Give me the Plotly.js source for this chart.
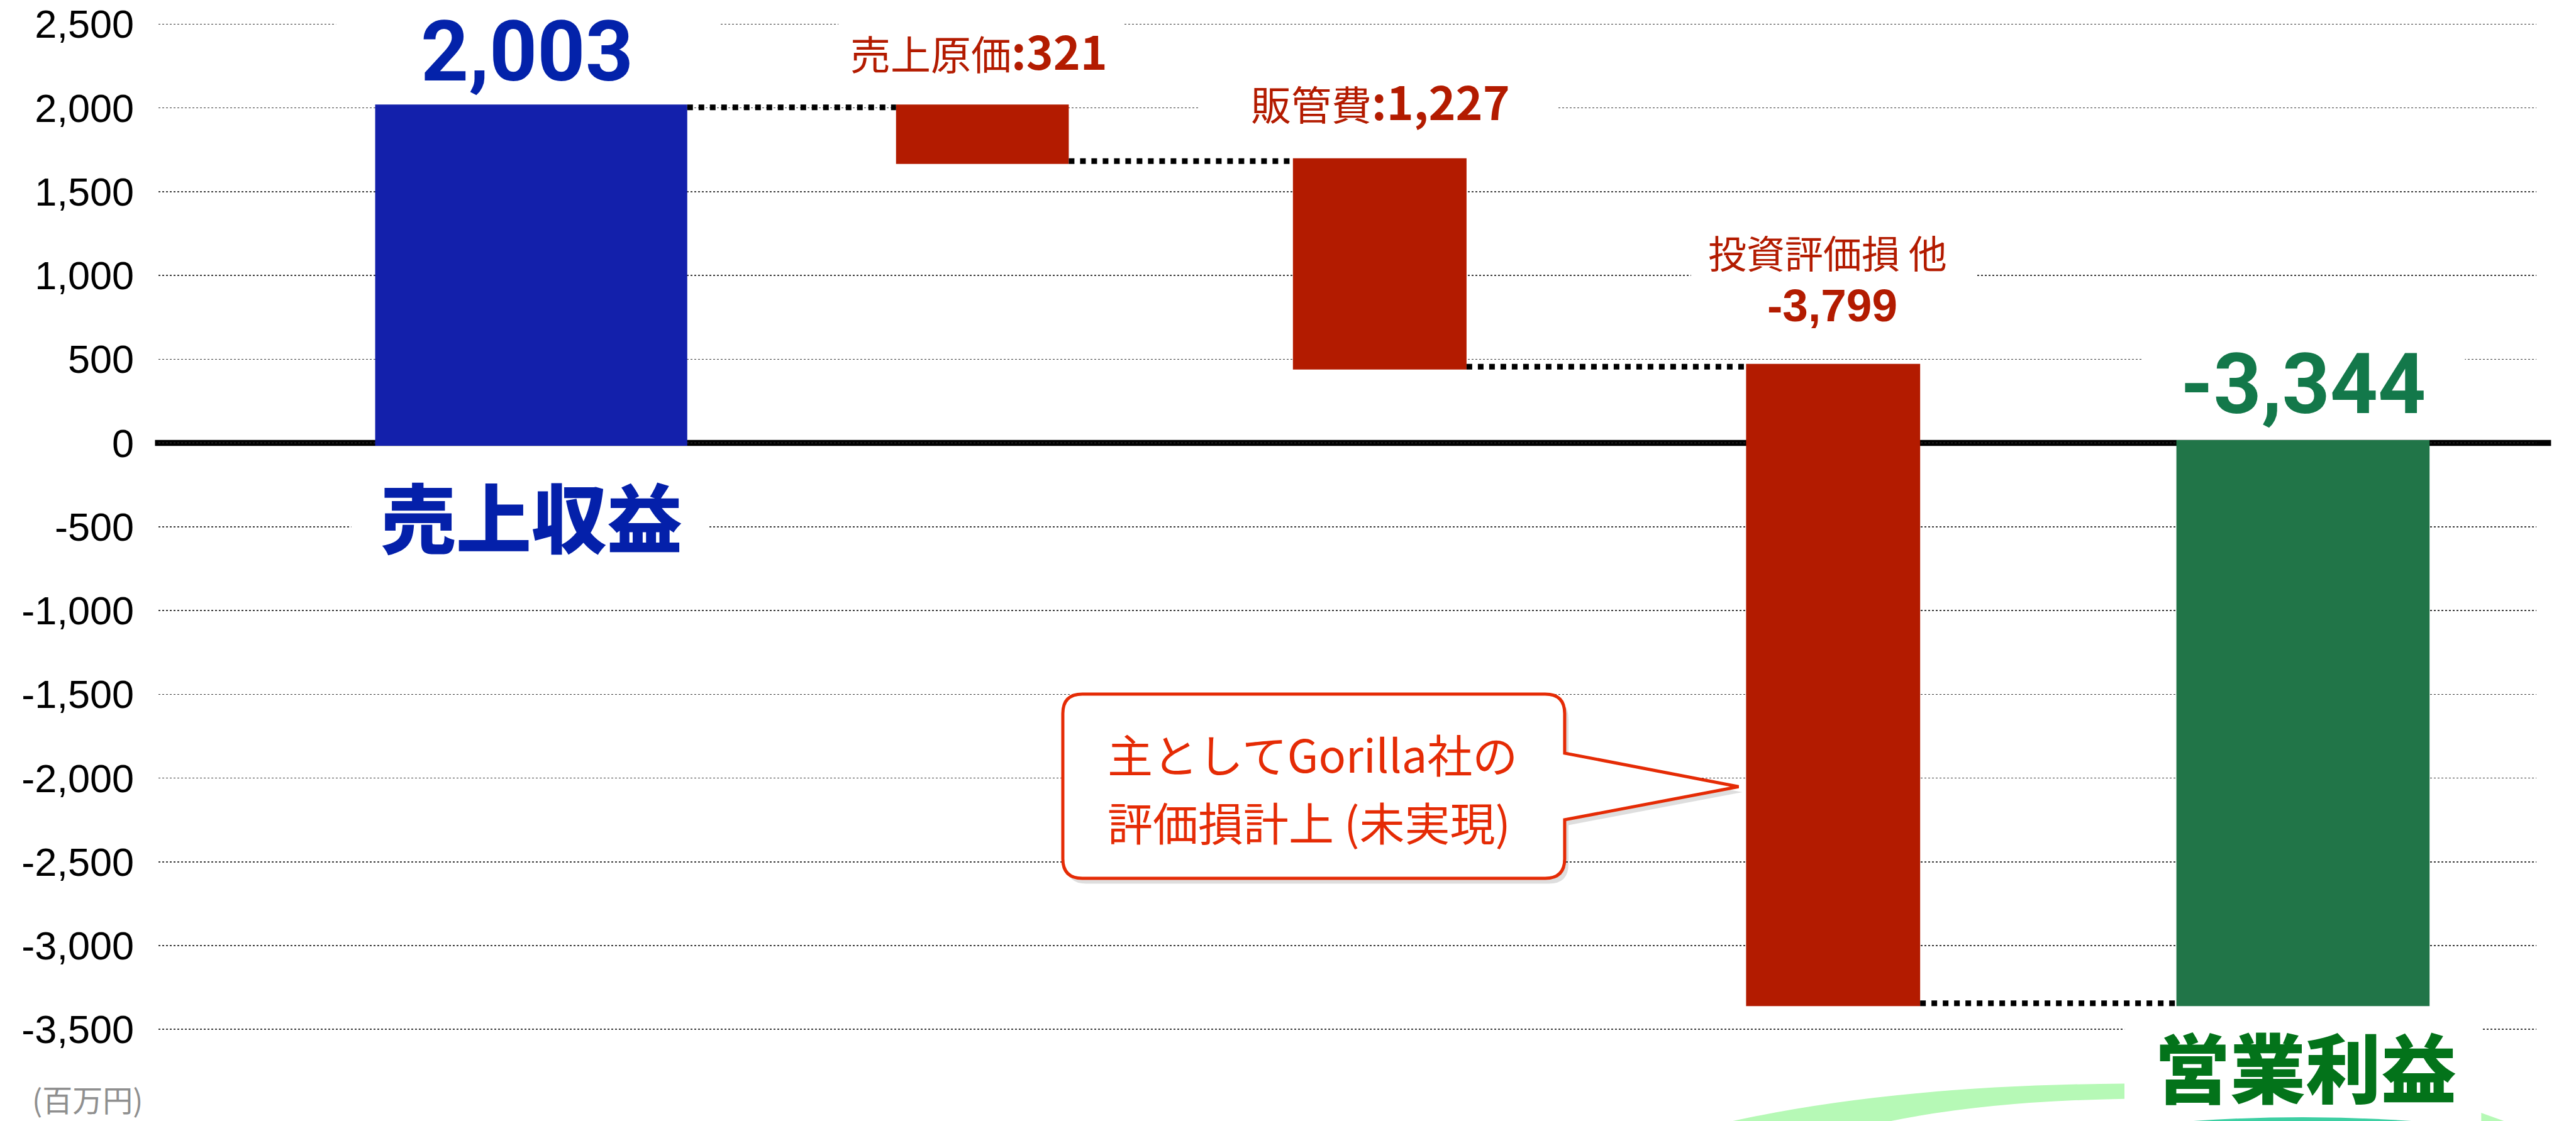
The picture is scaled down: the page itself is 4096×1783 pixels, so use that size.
<!DOCTYPE html>
<html>
<head>
<meta charset="utf-8">
<script src="https://cdn.plot.ly/plotly-3.0.1.min.js"></script>
<style>html,body{margin:0;padding:0;background:#fff;overflow:hidden}</style>
</head>
<body>
<div id="chart" style="width:4096px;height:1783px"></div>
<script>
// ---- data ----
const categories = ['売上収益', '売上原価', '販管費', '投資評価損 他', '営業利益'];
const amounts = [2003, -321, -1227, -3799, -3344];
const measures = ['relative', 'relative', 'relative', 'relative', 'total'];
const tickValues = [2500, 2000, 1500, 1000, 500, 0, -500, -1000, -1500, -2000, -2500, -3000, -3500];
const tickLabels = ['2,500', '2,000', '1,500', '1,000', '500', '0', '-500', '-1,000', '-1,500', '-2,000', '-2,500', '-3,000', '-3,500'];
const calloutLines = ['主としてGorilla社の', '評価損計上 (未実現)'];
const unitLabel = '(百万円)';

// ---- geometry helpers (reference pixels -> paper) ----
const W = 4096, H = 1783, S = W / 4753;
const M = {l: 252, r: 63, t: 0, b: 0, pad: 0};
const PW = W - M.l - M.r, PH = H - M.t - M.b;
const px = r => (r * S - M.l) / PW;
const py = r => 1 - (r * S - M.t) / PH;
const pt = (x, y) => px(x).toFixed(5) + ',' + py(y).toFixed(5);
const fmt = v => v.toLocaleString('en-US');

const RED = '#B31B00', BLUE = '#1320AB', GREEN = '#217548';
const CALLOUT = '#E52B05';
const CJK = '"Noto Sans CJK JP", "Noto Sans", sans-serif';
const NUM = 'Roboto, "Liberation Sans", sans-serif';
const ARIAL = '"Liberation Sans", Arial, sans-serif';

const trace = {
  type: 'waterfall',
  orientation: 'v',
  x: categories,
  y: amounts,
  measure: measures,
  width: [0.710, 0.393, 0.395, 0.396, 0.576],
  offset: [-0.345, -0.160, -0.257, -0.226, -0.247],
  increasing: {marker: {color: BLUE, line: {width: 0}}},
  decreasing: {marker: {color: RED, line: {width: 0}}},
  totals: {marker: {color: GREEN, line: {width: 0}}},
  connector: {mode: 'between', line: {color: '#000', width: 9, dash: 'dot'}},
  textinfo: 'none',
  hoverinfo: 'skip',
  showlegend: false
};

// callout balloon path
function calloutPath(dx, dy) {
  const L = 1961 + dx, R = 2887 + dx, T = 1281 + dy, B = 1621 + dy, r = 36;
  const P = (x, y) => pt(x, y);
  return `M${P(L + r, T)} L${P(R - r, T)} Q${P(R, T)} ${P(R, T + r)} L${P(R, 1390 + dy)} ` +
         `L${P(3208 + dx, 1452 + dy)} L${P(R, 1513 + dy)} L${P(R, B - r)} Q${P(R, B)} ${P(R - r, B)} ` +
         `L${P(L + r, B)} Q${P(L, B)} ${P(L, B - r)} L${P(L, T + r)} Q${P(L, T)} ${P(L + r, T)} Z`;
}

// white masks behind the labels (hide the dotted gridlines like the text boxes do)
function mask(x0, x1, y0, y1) {
  return {type: 'rect', xref: 'paper', yref: 'paper', x0: px(x0), x1: px(x1), y0: py(y0), y1: py(y1),
          fillcolor: '#ffffff', line: {width: 0}, layer: 'above'};
}

const shapes = [
  // zero line
  {type: 'line', xref: 'paper', yref: 'y', x0: px(286), x1: px(4707), y0: 0, y1: 0,
   line: {color: '#000', width: 9.5}, layer: 'between'},
  mask(620, 1327, 13, 163),
  mask(1547, 2074, 22, 162),
  mask(2214, 2875, 125, 245),
  mask(3120, 3646, 392, 632),
  mask(3952, 4548, 612, 802),
  mask(648, 1309, 863, 1043),
  // decorative swooshes at the bottom
  {type: 'path', xref: 'paper', yref: 'paper',
   path: `M${pt(3130, 2085)} Q${pt(3450, 2003)} ${pt(3920, 2000)} L${pt(3920, 2028)} Q${pt(3620, 2033)} ${pt(3420, 2085)} Z`,
   fillcolor: '#B6F9B6', line: {width: 0}, layer: 'above'},
  {type: 'path', xref: 'paper', yref: 'paper',
   path: `M${pt(4578, 2054)} L${pt(4665, 2085)} L${pt(4615, 2085)} L${pt(4578, 2072)} Z`,
   fillcolor: '#B6F9B6', line: {width: 0}, layer: 'above'},
  mask(3920, 4578, 1880, 2075),
  {type: 'path', xref: 'paper', yref: 'paper',
   path: `M${pt(3925, 2080)} Q${pt(4250, 2044)} ${pt(4570, 2080)} Z`,
   fillcolor: '#3DCFA3', line: {width: 0}, layer: 'above'},
  // callout shadow + balloon
  {type: 'path', xref: 'paper', yref: 'paper', path: calloutPath(7, 10),
   fillcolor: 'rgba(0,0,0,0.13)', line: {width: 0}, layer: 'above'},
  {type: 'path', xref: 'paper', yref: 'paper', path: calloutPath(0, 0),
   fillcolor: '#ffffff', line: {color: CALLOUT, width: 5}, layer: 'above'}
];

function label(text, cx, cy, font, anchor) {
  return {xref: 'paper', yref: 'paper', x: px(cx), y: py(cy), xanchor: anchor || 'center', yanchor: 'middle',
          showarrow: false, text: text, align: anchor === 'left' ? 'left' : 'center', font: font, borderpad: 0};
}

const annotations = [
  label(fmt(amounts[0]), 972, 96, {family: NUM, size: 133, color: '#0322AA', weight: 700}),
  label(`${categories[1]}<b><span style="font-size:73px">:${fmt(-amounts[1])}</span></b>`,
    1806, 92, {family: CJK, size: 64, color: RED}),
  label(`${categories[2]}<b><span style="font-size:73px">:${fmt(-amounts[2])}</span></b>`,
    2547, 185, {family: CJK, size: 64, color: RED}),
  label(categories[3], 3372, 465, {family: CJK, size: 61, color: RED}),
  label(`<b>${fmt(amounts[3])}</b>`, 3381, 563, {family: ARIAL, size: 73, color: RED}),
  label(fmt(amounts[4]), 4249, 710, {family: NUM, size: 133, color: '#13784A', weight: 700}),
  label(categories[0], 980, 950, {family: CJK, size: 120, color: '#0420AA', weight: 900}),
  label(categories[4], 4254, 1966, {family: CJK, size: 120, color: '#03731A', weight: 900}),
  label(calloutLines[0], 2042, 1390, {family: CJK, size: 72, color: CALLOUT}, 'left'),
  label(calloutLines[1], 2042, 1515, {family: CJK, size: 72, color: CALLOUT}, 'left'),
  {xref: 'paper', yref: 'paper', x: px(58), y: 0, xanchor: 'left', yanchor: 'bottom', borderpad: 0,
   showarrow: false, text: unitLabel, font: {family: CJK, size: 48, color: '#8F8F8F'}}
];

const layout = {
  width: W, height: H,
  margin: M,
  paper_bgcolor: '#ffffff', plot_bgcolor: '#ffffff',
  showlegend: false,
  xaxis: {type: 'category', range: [-0.838, 4.572], showgrid: false, zeroline: false,
          showticklabels: false, showline: false, ticks: '', fixedrange: true},
  yaxis: {range: [-4047, 2644], tickmode: 'array', tickvals: tickValues, ticktext: tickLabels,
          showgrid: true, gridcolor: '#3a3a3a', gridwidth: 1.5, griddash: 'dot',
          zeroline: false, showline: false, ticks: '', ticklabelstandoff: 38,
          ticklabeloverflow: 'allow',
          tickfont: {family: ARIAL, size: 63, color: '#000'}, fixedrange: true},
  shapes: shapes,
  annotations: annotations
};

Plotly.newPlot('chart', [trace], layout, {staticPlot: true, displayModeBar: false});
</script>
</body>
</html>
